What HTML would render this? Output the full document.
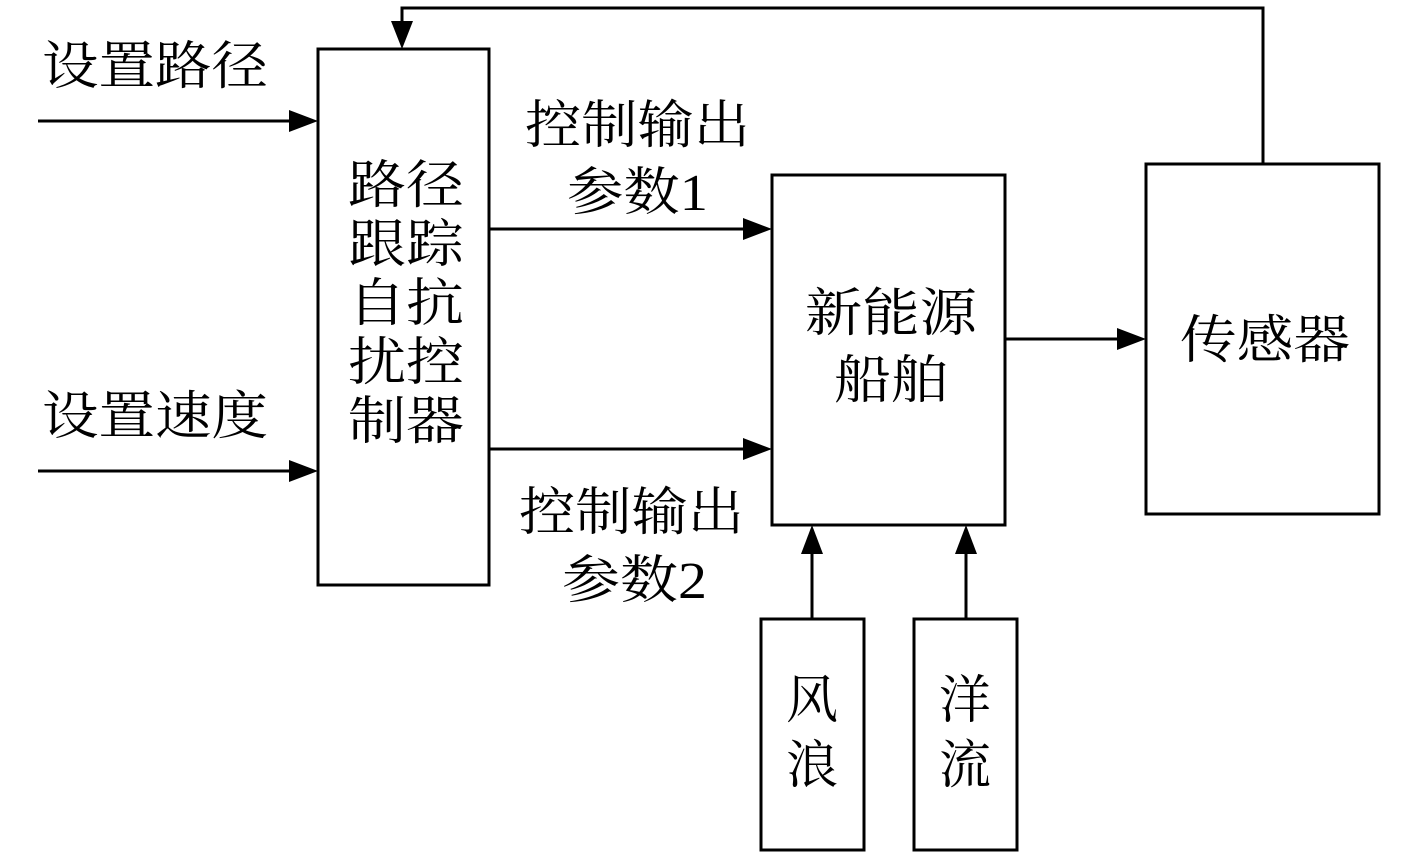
<!DOCTYPE html>
<html><head><meta charset="utf-8"><style>
html,body{margin:0;padding:0;background:#fff;}
svg{display:block}
text{font-family:"Liberation Serif","Noto Serif CJK SC",serif;fill:#000;}
</style></head><body>
<svg width="1417" height="860" viewBox="0 0 1417 860" xmlns="http://www.w3.org/2000/svg">
<defs>
<marker id="a" markerWidth="10" markerHeight="8" refX="10" refY="4" orient="auto" markerUnits="userSpaceOnUse" viewBox="0 0 10 8">
</marker>
</defs>
<g fill="none" stroke="#000" stroke-width="3">
<rect x="318" y="49" width="171" height="536"/>
<rect x="772" y="175" width="233" height="350"/>
<rect x="1146" y="164" width="233" height="350"/>
<rect x="761" y="619" width="103" height="231"/>
<rect x="914" y="619" width="103" height="231"/>
<line x1="38" y1="121" x2="292" y2="121"/>
<line x1="38" y1="471" x2="292" y2="471"/>
<line x1="489" y1="229" x2="745" y2="229"/>
<line x1="489" y1="449" x2="745" y2="449"/>
<line x1="1005" y1="339" x2="1120" y2="339"/>
<polyline points="1263,164 1263,8 402,8 402,22"/>
<line x1="812" y1="619" x2="812" y2="552"/>
<line x1="966" y1="619" x2="966" y2="552"/>
</g>
<g fill="#000">
<polygon points="318,121 289,110 289,132"/>
<polygon points="318,471 289,460 289,482"/>
<polygon points="772,229 743,218 743,240"/>
<polygon points="772,449 743,438 743,460"/>
<polygon points="1146,339 1117,328 1117,350"/>
<polygon points="402,49 391,21 413,21"/>
<polygon points="812,525 801,554 823,554"/>
<polygon points="966,525 955,554 977,554"/>
</g>
<g font-size="52">
<text x="42" y="84" textLength="226" lengthAdjust="spacingAndGlyphs">设置路径</text>
<text x="42" y="434" textLength="226" lengthAdjust="spacingAndGlyphs">设置速度</text>
<text x="525" y="143" textLength="225" lengthAdjust="spacingAndGlyphs">控制输出</text>
<text x="567" y="210" textLength="141" lengthAdjust="spacingAndGlyphs">参数1</text>
<text x="519" y="530" textLength="225" lengthAdjust="spacingAndGlyphs">控制输出</text>
<text x="562" y="598" textLength="145" lengthAdjust="spacingAndGlyphs">参数2</text>
<text x="348" y="203" textLength="116" lengthAdjust="spacingAndGlyphs">路径</text>
<text x="348" y="262" textLength="116" lengthAdjust="spacingAndGlyphs">跟踪</text>
<text x="348" y="321" textLength="116" lengthAdjust="spacingAndGlyphs">自抗</text>
<text x="348" y="380" textLength="116" lengthAdjust="spacingAndGlyphs">扰控</text>
<text x="348" y="439" textLength="116" lengthAdjust="spacingAndGlyphs">制器</text>
<text x="805" y="331" textLength="172" lengthAdjust="spacingAndGlyphs">新能源</text>
<text x="834" y="398" textLength="114" lengthAdjust="spacingAndGlyphs">船舶</text>
<text x="1180" y="358" textLength="170" lengthAdjust="spacingAndGlyphs">传感器</text>
<text x="786" y="718">风</text>
<text x="786" y="783">浪</text>
<text x="939" y="718">洋</text>
<text x="939" y="783">流</text>
</g>
</svg>
</body></html>
